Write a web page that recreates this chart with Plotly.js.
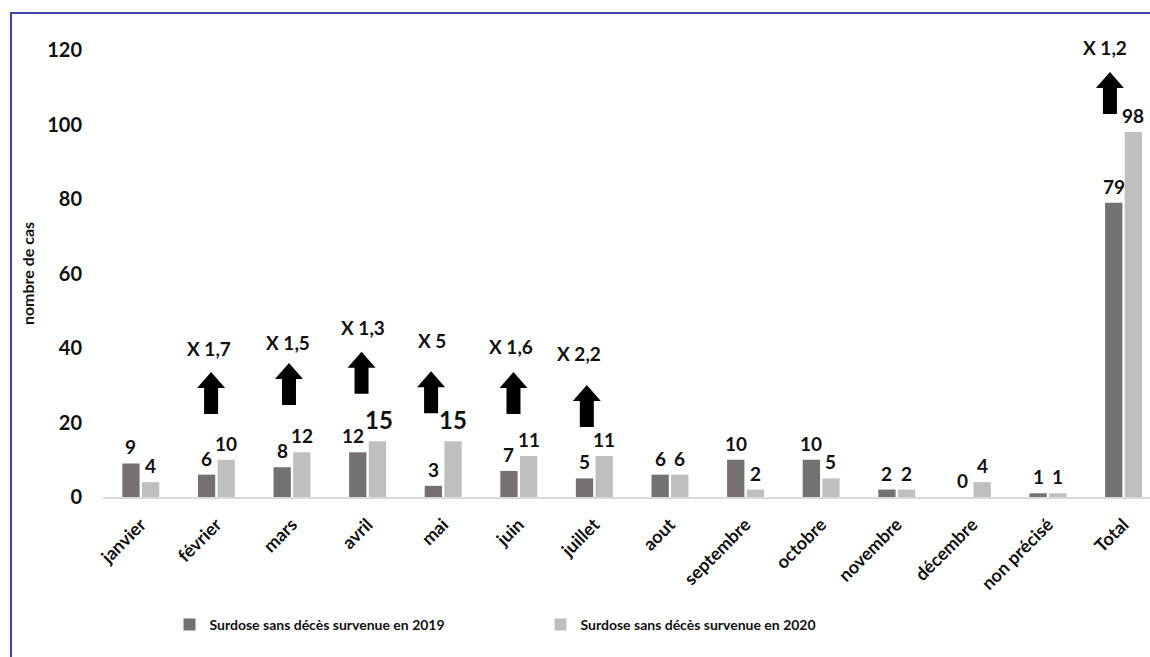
<!DOCTYPE html>
<html><head><meta charset="utf-8">
<script src="https://cdn.plot.ly/plotly-3.0.1.min.js"></script>
<style>
html,body{margin:0;padding:0;background:#fff;overflow:hidden;}
#wrap{position:relative;width:1150px;height:657px;overflow:hidden;}
#frame{position:absolute;left:10px;top:12px;width:1200px;height:700px;border-left:2px solid #3f48a8;border-top:2px solid #3f48a8;pointer-events:none;}
#chart{position:absolute;left:0;top:0;width:1150px;height:657px;}
</style></head>
<body><div id="wrap"><div id="chart"></div><div id="frame"></div></div>
<script>
const categories = ['janvier','février','mars','avril','mai','juin','juillet','aout','septembre','octobre','novembre','décembre','non précisé','Total'];
const values2019 = [9,6,8,12,3,7,5,6,10,10,2,0,1,79];
const values2020 = [4,10,12,15,15,11,11,6,2,5,2,4,1,98];
const name2019 = 'Surdose sans décès survenue en 2019';
const name2020 = 'Surdose sans décès survenue en 2020';
const multLabels = ['X 1,7','X 1,5','X 1,3','X 5','X 1,6','X 2,2','X 1,2'];
const multCats = ['février','mars','avril','mai','juin','juillet','Total'];

const FONT = 'Lato, "Open Sans", sans-serif';

const traces = [
  {type:'bar', name:name2019, x:categories, y:values2019, marker:{color:'#767171'}},
  {type:'bar', name:name2020, x:categories, y:values2020, marker:{color:'#bfbfbf'}}
];

const shapes = [], annotations = [];

// value labels, placed above each bar
const BAR_OFF = 0.13;
categories.forEach((c,i)=>{
  annotations.push({xref:'x', yref:'y', x:i-BAR_OFF, y:values2019[i], yanchor:'bottom',
    xshift:(c==='avril')?-5:0, yshift:3, showarrow:false,
    text:'<b>'+values2019[i]+'</b>', font:{family:FONT, size:19, color:'#111'}});
  const big = (c==='avril'||c==='mai');
  annotations.push({xref:'x', yref:'y', x:i+BAR_OFF, y:values2020[i], yanchor:'bottom',
    xshift:(c==='avril')?2:0, yshift:big?5:3, showarrow:false,
    text:'<b>'+values2020[i]+'</b>', font:{family:FONT, size:big?24:19, color:'#111'}});
});

// arrows and multipliers
const arrowOffset = [-0.07,-0.04,-0.08,-0.16,-0.07,-0.1,-0.18];
const arrowBase = [22.3,24.7,27.7,22.5,22.3,18.8,102.8];
const textY = [40,41.5,45.5,42,40.5,38.5,120];
const textShift = [0,0,0,0,0,0,3];
const textOffset = [-0.1,-0.05,-0.06,-0.15,-0.1,-0.2,-0.24];
multCats.forEach((c,k)=>{
  const idx = categories.indexOf(c);
  shapes.push({type:'path', xref:'x', yref:'y', xsizemode:'pixel', ysizemode:'pixel',
    xanchor: idx + arrowOffset[k], yanchor: arrowBase[k],
    path:'M -7,0 L 7,0 L 7,26 L 14,26 L 0,42 L -14,26 L -7,26 Z',
    fillcolor:'#000', line:{width:0}});
  annotations.push({xref:'x', yref:'y', x: idx + textOffset[k], y: textY[k], yshift:textShift[k],
    text:'<b>'+multLabels[k]+'</b>', showarrow:false, font:{family:FONT, size:19, color:'#111'}});
});

const layout = {
  width:1150, height:657,
  margin:{l:103, r:0, t:50, b:160},
  paper_bgcolor:'rgba(0,0,0,0)', plot_bgcolor:'rgba(0,0,0,0)',
  barmode:'group', bargap:0.48, bargroupgap:0.12,
  font:{family:FONT, color:'#111'},
  xaxis:{type:'category', range:[-0.5,13.35], tickangle:-45, showgrid:false, zeroline:false,
    showline:true, linecolor:'#d9d9d9', linewidth:2, ticks:'', ticklabelstandoff:8,
    tickfont:{family:FONT, size:18, color:'#111', weight:'bold'}},
  yaxis:{range:[0,120], dtick:20, showgrid:false, zeroline:false, showline:false, ticks:'',
    ticklabelstandoff:20, tickfont:{family:FONT, size:20, color:'#111', weight:'bold'},
    title:{text:'nombre de cas', font:{family:FONT, size:16, color:'#111', weight:'bold'}, standoff:8}},
  legend:{orientation:'h', x:0.0635, y:-0.286, xanchor:'left', yanchor:'middle',
    entrywidth:326, entrywidthmode:'pixels', font:{family:FONT, size:14, color:'#111', weight:'bold'}},
  shapes:shapes, annotations:annotations,
  showlegend:true
};
Plotly.newPlot('chart', traces, layout, {displayModeBar:false, staticPlot:true});
</script></body></html>
